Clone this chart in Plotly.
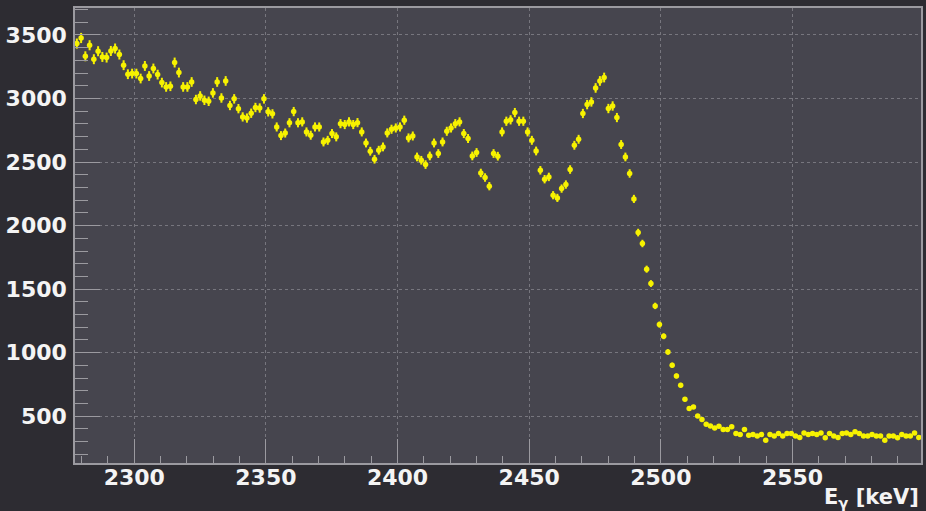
import numpy as np
import plotly.graph_objects as go

# Spectrum binning (keV)
first_bin_center = 2278.2
bin_width = 1.615

# Counts per bin
counts = [
    3432, 3476, 3332, 3419, 3309, 3372, 3327, 3322, 3374, 3393,
    3346, 3262, 3191, 3196, 3196, 3157, 3256, 3177, 3236, 3188,
    3125, 3091, 3096, 3283, 3204, 3091, 3091, 3130, 2992, 3020,
    2986, 2978, 3044, 3130, 3004, 3138, 2945, 2997, 2920, 2855,
    2846, 2884, 2929, 2925, 2997, 2895, 2879, 2776, 2708, 2728,
    2809, 2897, 2809, 2816, 2737, 2711, 2776, 2776, 2658, 2671,
    2724, 2698, 2802, 2795, 2816, 2795, 2810, 2737, 2650, 2585,
    2522, 2593, 2619, 2729, 2758, 2768, 2776, 2829, 2690, 2705,
    2540, 2514, 2480, 2548, 2650, 2567, 2658, 2742, 2768, 2802,
    2816, 2724, 2685, 2548, 2575, 2414, 2378, 2310, 2567, 2546,
    2737, 2821, 2832, 2889, 2821, 2821, 2737, 2671, 2587, 2435,
    2365, 2383, 2239, 2218, 2291, 2323, 2441, 2632, 2679, 2882,
    2952, 2973, 3083, 3138, 3165, 2921, 2941, 2850, 2638, 2540,
    2410, 2210, 1945, 1859, 1657, 1544, 1368, 1221, 1129, 1006,
    901, 817, 744, 634, 561, 573, 502, 474, 437, 424,
    408, 421, 395, 395, 418, 364, 356, 395, 350, 356,
    345, 356, 311, 356, 345, 364, 345, 364, 364, 345,
    333, 369, 356, 364, 356, 369, 330, 364, 345, 333,
    364, 369, 356, 377, 364, 345, 345, 356, 345, 345,
    311, 345, 345, 330, 356, 345, 345, 369, 333,
]

# Statistical uncertainty scale applied to sqrt(N)
error_scale = 0.68

x_ticks = [2300, 2350, 2400, 2450, 2500, 2550]
y_ticks = [500, 1000, 1500, 2000, 2500, 3000, 3500]

energy = first_bin_center + bin_width * np.arange(len(counts))
errors = error_scale * np.sqrt(np.array(counts, dtype=float))

yellow = "#f7f200"
axis_grey = "#9b9aa0"
grid_grey = "#77767e"
font_family = "DejaVu Sans, Verdana, sans-serif"
label_font = dict(size=22, color="#f4f4f4", family=font_family, weight="bold")

fig = go.Figure()
fig.add_trace(go.Scatter(
    x=energy,
    y=counts,
    mode="markers",
    marker=dict(symbol="circle", size=5.5, color=yellow, line=dict(width=0)),
    error_y=dict(type="data", array=errors, color=yellow, thickness=2, width=0),
    showlegend=False,
    hoverinfo="x+y",
))

fig.update_layout(
    width=926,
    height=511,
    margin=dict(l=75, r=3, t=8, b=48),
    paper_bgcolor="#2d2c32",
    plot_bgcolor="#46454e",
    font=dict(family=font_family, color="white"),
    xaxis=dict(
        range=[2277.5, 2598.8],
        tickvals=x_ticks,
        ticktext=[str(v) for v in x_ticks],
        tickfont=label_font,
        ticks="inside",
        ticklen=24,
        tickwidth=1,
        tickcolor=axis_grey,
        minor=dict(dtick=10, tick0=2300, ticks="inside", ticklen=7,
                   tickcolor=axis_grey, tickwidth=1, showgrid=False),
        showgrid=True,
        gridcolor=grid_grey,
        griddash="dot",
        gridwidth=1,
        showline=True,
        linecolor=axis_grey,
        linewidth=1.5,
        mirror=True,
        zeroline=False,
        ticklabelstandoff=-6,
    ),
    yaxis=dict(
        range=[132, 3712],
        tickvals=y_ticks,
        ticktext=[str(v) for v in y_ticks],
        tickfont=label_font,
        ticks="inside",
        ticklen=25,
        tickwidth=1,
        tickcolor=axis_grey,
        minor=dict(dtick=100, tick0=0, ticks="inside", ticklen=13,
                   tickcolor=axis_grey, tickwidth=1, showgrid=False),
        showgrid=True,
        gridcolor=grid_grey,
        griddash="dot",
        gridwidth=1,
        showline=True,
        linecolor=axis_grey,
        linewidth=1.5,
        mirror=True,
        zeroline=False,
        ticklabelstandoff=2,
    ),
    annotations=[dict(
        text="<b>E<sub>γ</sub> [keV]</b>",
        xref="paper", yref="paper",
        x=1.0, y=-0.077,
        xanchor="right", yanchor="middle",
        showarrow=False,
        font=dict(size=21, color="#f4f4f4", family=font_family),
    )],
)

fig.write_html("out.html")
